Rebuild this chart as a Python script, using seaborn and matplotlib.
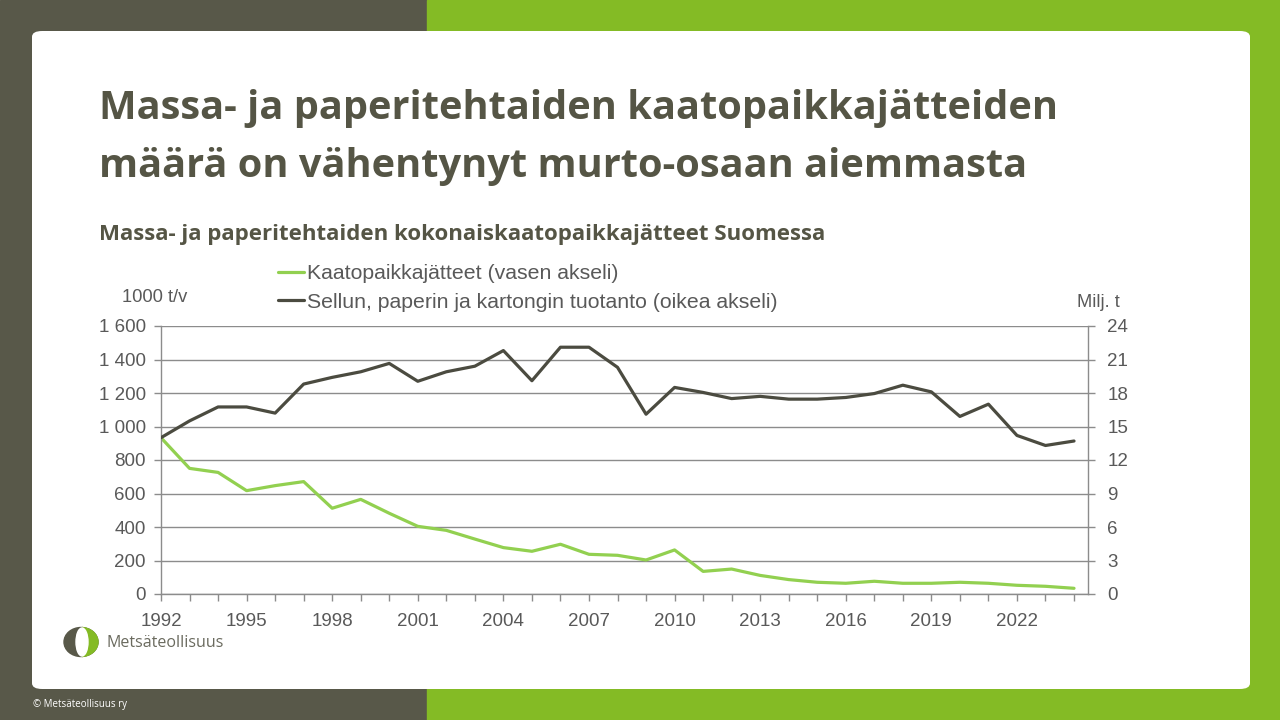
import numpy as np
import pandas as pd
import matplotlib
matplotlib.use("Agg")
import matplotlib.pyplot as plt
from matplotlib.patches import FancyBboxPatch, Rectangle, Ellipse
from matplotlib.lines import Line2D
from matplotlib.ticker import FuncFormatter
import seaborn as sns

# Tiedot luettu kuvasta
years = list(range(1992, 2025))
landfill = [933, 750, 726, 617, 647, 671, 512, 565, 482, 404,
            380, 328, 277, 255, 297, 237, 231, 203, 263, 135,
            149, 111, 86, 70, 64, 76, 64, 64, 70, 64,
            52, 46, 34]
production = [14.0, 15.5, 16.75, 16.75, 16.2, 18.8, 19.4, 19.9, 20.65, 19.05,
              19.9, 20.4, 21.8, 19.1, 22.1, 22.1, 20.3, 16.1, 18.5, 18.05,
              17.5, 17.7, 17.45, 17.45, 17.6, 17.95, 18.7, 18.1, 15.9, 17.0,
              14.2, 13.3, 13.7]
label_landfill = "Kaatopaikkajätteet (vasen akseli)"
label_prod = "Sellun, paperin ja kartongin tuotanto (oikea akseli)"
left_ticks = list(range(0, 1601, 200))
right_ticks = list(range(0, 25, 3))

DARK = "#585849"
GREEN = "#84bb25"
TITLE = "#555545"
LINE_GREEN = "#92d050"
LINE_DARK = "#4b4b40"
AXIS_GREY = "#8c8c8c"
TXT = "#595959"

sns.set_style("white")
plt.rcParams["font.family"] = ["Liberation Sans", "DejaVu Sans"]

W, H = 1280, 720
fig = plt.figure(figsize=(12.8, 7.2), dpi=100)


def fx(x):
    return x / W


def fy(y):
    return 1 - y / H


# tausta ja valkoinen kortti
fig.add_artist(Rectangle((0, 0), fx(427), 1, transform=fig.transFigure, color=DARK, zorder=-3))
fig.add_artist(Rectangle((fx(427), 0), 1 - fx(427), 1, transform=fig.transFigure, color=GREEN, zorder=-3))
fig.add_artist(FancyBboxPatch((fx(32), fy(689)), fx(1250) - fx(32), fy(31) - fy(689),
                              boxstyle="round,pad=0,rounding_size=0.008",
                              transform=fig.transFigure, facecolor="white",
                              edgecolor="none", zorder=-2))

# otsikot
fig.text(fx(99), fy(109), "Massa- ja paperitehtaiden kaatopaikkajätteiden",
         family="Open Sans", weight="bold", fontsize=28.6, color=TITLE, va="center")
fig.text(fx(99), fy(166), "määrä on vähentynyt murto-osaan aiemmasta",
         family="Open Sans", weight="bold", fontsize=28.6, color=TITLE, va="center")
fig.text(fx(99), fy(235), "Massa- ja paperitehtaiden kokonaiskaatopaikkajätteet Suomessa",
         family="Open Sans", weight="bold", fontsize=16, color=TITLE, va="center")

df = pd.DataFrame({"vuosi": years, "jate": landfill, "tuotanto": production})

ax = fig.add_axes([fx(161), fy(594), fx(1088) - fx(161), fy(326) - fy(594)])
ax.set_facecolor("none")
ax2 = ax.twinx()

sns.lineplot(data=df, x="vuosi", y="jate", ax=ax, color=LINE_GREEN, lw=2.3, legend=False)
sns.lineplot(data=df, x="vuosi", y="tuotanto", ax=ax2, color=LINE_DARK, lw=2.3, legend=False)

ax.set_xlim(1992, 2024.49)
ax.set_ylim(0, 1600)
ax2.set_ylim(0, 24)
ax.set_yticks(left_ticks)
ax2.set_yticks(right_ticks)
ax.yaxis.set_major_formatter(FuncFormatter(lambda v, p: f"{int(v):,}".replace(",", " ")))
ax.set_xticks(years)
ax.set_xticklabels([str(y) if (y - 1992) % 3 == 0 else "" for y in years])
ax.set_xlabel("")
ax.set_ylabel("")
ax2.set_ylabel("")

ax.grid(axis="y", color=AXIS_GREY, lw=1)
ax.grid(axis="x", visible=False)
ax2.grid(False)
ax.set_axisbelow(True)

for a in (ax, ax2):
    for s in a.spines.values():
        s.set_visible(False)
ax.spines["left"].set_visible(True)
ax.spines["bottom"].set_visible(True)
ax2.spines["right"].set_visible(True)
for s in (ax.spines["left"], ax.spines["bottom"], ax2.spines["right"]):
    s.set_color(AXIS_GREY)
    s.set_linewidth(1)

ax.tick_params(axis="both", direction="out", length=5, width=1, color=AXIS_GREY,
               labelcolor=TXT, labelsize=13.5, pad=6)
ax.tick_params(axis="x", pad=9)
ax.tick_params(axis="y", left=True)
ax.tick_params(axis="x", bottom=True)
ax2.tick_params(axis="y", direction="out", length=5, width=1, color=AXIS_GREY,
                labelcolor=TXT, labelsize=13.5, pad=9, right=True)

# akseliotsikot
fig.text(fx(122), fy(298), "1000 t/v", fontsize=13.2, color=TXT, va="center")
fig.text(fx(1077), fy(302), "Milj. t", fontsize=13.2, color=TXT, va="center")

# selite
handles = [Line2D([], [], color=LINE_GREEN, lw=2.3), Line2D([], [], color=LINE_DARK, lw=2.3)]
fig.legend(handles, [label_landfill, label_prod], loc="upper left",
           bbox_to_anchor=(fx(278), fy(264)), frameon=False, fontsize=15.3,
           handlelength=1.2, handletextpad=0.15, labelspacing=0.45,
           borderpad=0, borderaxespad=0, labelcolor=TXT)

# logo
tf = fig.transFigure
fig.add_artist(Ellipse((fx(81), fy(642)), 34 / W, 29 / H, transform=tf, color=DARK, zorder=2))
green_half = Ellipse((fx(81), fy(642)), 34 / W, 29 / H, transform=tf, color=GREEN, zorder=2.1)
fig.add_artist(green_half)
green_half.set_clip_path(Rectangle((fx(82), fy(660)), 20 / W, 36 / H, transform=tf))
fig.add_artist(Ellipse((fx(82), fy(642)), 12 / W, 28 / H, transform=tf, color="white", zorder=2.2))
fig.text(fx(107), fy(643), "Metsäteollisuus", family="Open Sans", fontsize=11.5,
         color="#6a6a5e", va="center")

fig.text(fx(33), fy(704), "© Metsäteollisuus ry", family="Open Sans", fontsize=7,
         color="white", va="center")

fig.savefig("out.png", dpi=100)
